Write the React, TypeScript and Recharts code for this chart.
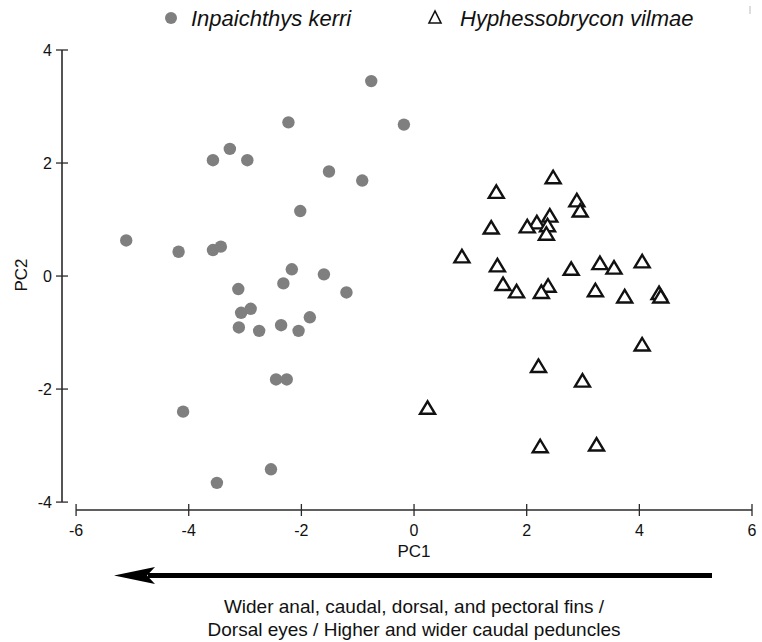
import { ScatterChart, Scatter, XAxis, YAxis, ReferenceLine } from 'recharts';

// PCA scores: [PC1, PC2]
const kerriPoints: [number, number][] = [
  [-0.76, 3.45], [-2.23, 2.72], [-0.18, 2.68], [-3.27, 2.25], [-3.57, 2.05],
  [-2.96, 2.05], [-1.51, 1.85], [-0.92, 1.69], [-2.02, 1.15], [-5.11, 0.63],
  [-4.18, 0.43], [-3.57, 0.46], [-3.43, 0.52], [-2.17, 0.12], [-1.6, 0.03],
  [-2.32, -0.13], [-3.12, -0.23], [-1.2, -0.29], [-3.07, -0.65], [-2.9, -0.58],
  [-3.11, -0.91], [-2.75, -0.97], [-2.36, -0.87], [-2.05, -0.97], [-1.85, -0.73],
  [-2.45, -1.83], [-2.26, -1.83], [-4.1, -2.4], [-2.54, -3.42], [-3.5, -3.66],
];

const vilmaePoints: [number, number][] = [
  [2.47, 1.74], [1.46, 1.48], [2.89, 1.33], [2.95, 1.15], [2.41, 1.06],
  [2.18, 0.94], [2.01, 0.87], [2.37, 0.89], [1.37, 0.85], [2.35, 0.74],
  [0.85, 0.34], [1.48, 0.18], [3.3, 0.22], [3.55, 0.14], [4.05, 0.25],
  [2.79, 0.12], [1.58, -0.15], [1.82, -0.28], [2.38, -0.18], [2.26, -0.29],
  [3.22, -0.26], [3.74, -0.37], [4.35, -0.31], [4.38, -0.37], [4.05, -1.22],
  [2.21, -1.6], [2.99, -1.86], [0.24, -2.34], [2.24, -3.02], [3.24, -2.99],
];

const xTicks = [-6, -4, -2, 0, 2, 4, 6];
const yTicks = [-4, -2, 0, 2, 4];

const FONT = '"Liberation Sans", Arial, sans-serif';
const AXIS = '#2a2a2a';
const GRAY = '#7f7f7f';

const kerriData = kerriPoints.map(([x, y]) => ({ x, y }));
const vilmaeData = vilmaePoints.map(([x, y]) => ({ x, y }));

const XTick = (props: any) => {
  const { x, y, payload } = props;
  return (
    <g>
      <line x1={x} x2={x} y1={y - 6} y2={y + 6} stroke={AXIS} strokeWidth={1.3} />
      <text x={x} y={y + 26} textAnchor="middle" fontSize={16} fontFamily={FONT} fill="#111">
        {payload.value}
      </text>
    </g>
  );
};

const YTick = (props: any) => {
  const { x, y, payload } = props;
  return (
    <g>
      <line x1={x - 6} x2={x + 6} y1={y} y2={y} stroke={AXIS} strokeWidth={1.3} />
      <text x={x - 10} y={y + 6} textAnchor="end" fontSize={16} fontFamily={FONT} fill="#111">
        {payload.value}
      </text>
    </g>
  );
};

const Dot = (props: any) => <circle cx={props.cx} cy={props.cy} r={6.2} fill={GRAY} />;

const Tri = (props: any) => {
  const { cx, cy } = props;
  return (
    <path
      d={`M${cx},${cy - 7} L${cx - 7.5},${cy + 5.5} L${cx + 7.5},${cy + 5.5} Z`}
      fill="#fff"
      stroke="#111"
      strokeWidth={2.4}
      strokeLinejoin="miter"
    />
  );
};

export default function App() {
  return (
    <div style={{ position: 'absolute', left: 0, top: 0, width: 762, height: 642, background: '#fff' }}>
      <ScatterChart width={762} height={642} margin={{ top: 50, right: 10, bottom: 102, left: 12 }}>
        <XAxis
          type="number"
          dataKey="x"
          domain={[-6.25, 6]}
          ticks={xTicks}
          allowDataOverflow
          axisLine={false}
          tickLine={false}
          tickSize={0}
          tickMargin={0}
          height={30}
          tick={<XTick />}
        />
        <YAxis
          type="number"
          dataKey="y"
          domain={[-4.14, 4]}
          ticks={yTicks}
          allowDataOverflow
          axisLine={false}
          tickLine={false}
          tickSize={0}
          tickMargin={0}
          width={50}
          tick={<YTick />}
        />
        <ReferenceLine
          segment={[{ x: -6, y: -4.14 }, { x: 6, y: -4.14 }]}
          stroke={AXIS}
          strokeWidth={1.6}
          ifOverflow="visible"
        />
        <ReferenceLine
          segment={[{ x: -6.25, y: -4 }, { x: -6.25, y: 4 }]}
          stroke={AXIS}
          strokeWidth={1.6}
          ifOverflow="visible"
        />
        <Scatter data={kerriData} shape={<Dot />} isAnimationActive={false} />
        <Scatter data={vilmaeData} shape={<Tri />} isAnimationActive={false} />
      </ScatterChart>

      <svg
        width={762}
        height={642}
        style={{ position: 'absolute', left: 0, top: 0, pointerEvents: 'none' }}
      >
        {/* legend */}
        <circle cx={171} cy={18} r={6} fill={GRAY} />
        <text x={191} y={26} fontSize={22} fontStyle="italic" fontFamily={FONT} fill="#111">
          Inpaichthys kerri
        </text>
        <path d="M435,11 L429,23 L441,23 Z" fill="none" stroke="#111" strokeWidth={1.6} />
        <text x={460} y={26} fontSize={22} fontStyle="italic" fontFamily={FONT} fill="#111">
          Hyphessobrycon vilmae
        </text>
        <line x1={750} x2={750} y1={6} y2={14} stroke="#bbb" strokeWidth={1} />

        {/* axis titles */}
        <text x={414} y={557} textAnchor="middle" fontSize={17} fontFamily={FONT} fill="#111">
          PC1
        </text>
        <text
          x={27}
          y={275}
          textAnchor="middle"
          fontSize={17}
          fontFamily={FONT}
          fill="#111"
          transform="rotate(-90 27 275)"
        >
          PC2
        </text>

        {/* direction arrow */}
        <line x1={148} x2={712} y1={575.5} y2={575.5} stroke="#000" strokeWidth={5} />
        <path d="M114,575.5 L155,567 L147,575.5 L155,584 Z" fill="#000" />

        <text x={414} y={613} textAnchor="middle" fontSize={19} fontFamily={FONT} fill="#111">
          Wider anal, caudal, dorsal, and pectoral fins /
        </text>
        <text x={414} y={636} textAnchor="middle" fontSize={19} fontFamily={FONT} fill="#111">
          Dorsal eyes / Higher and wider caudal peduncles
        </text>
      </svg>
    </div>
  );
}
